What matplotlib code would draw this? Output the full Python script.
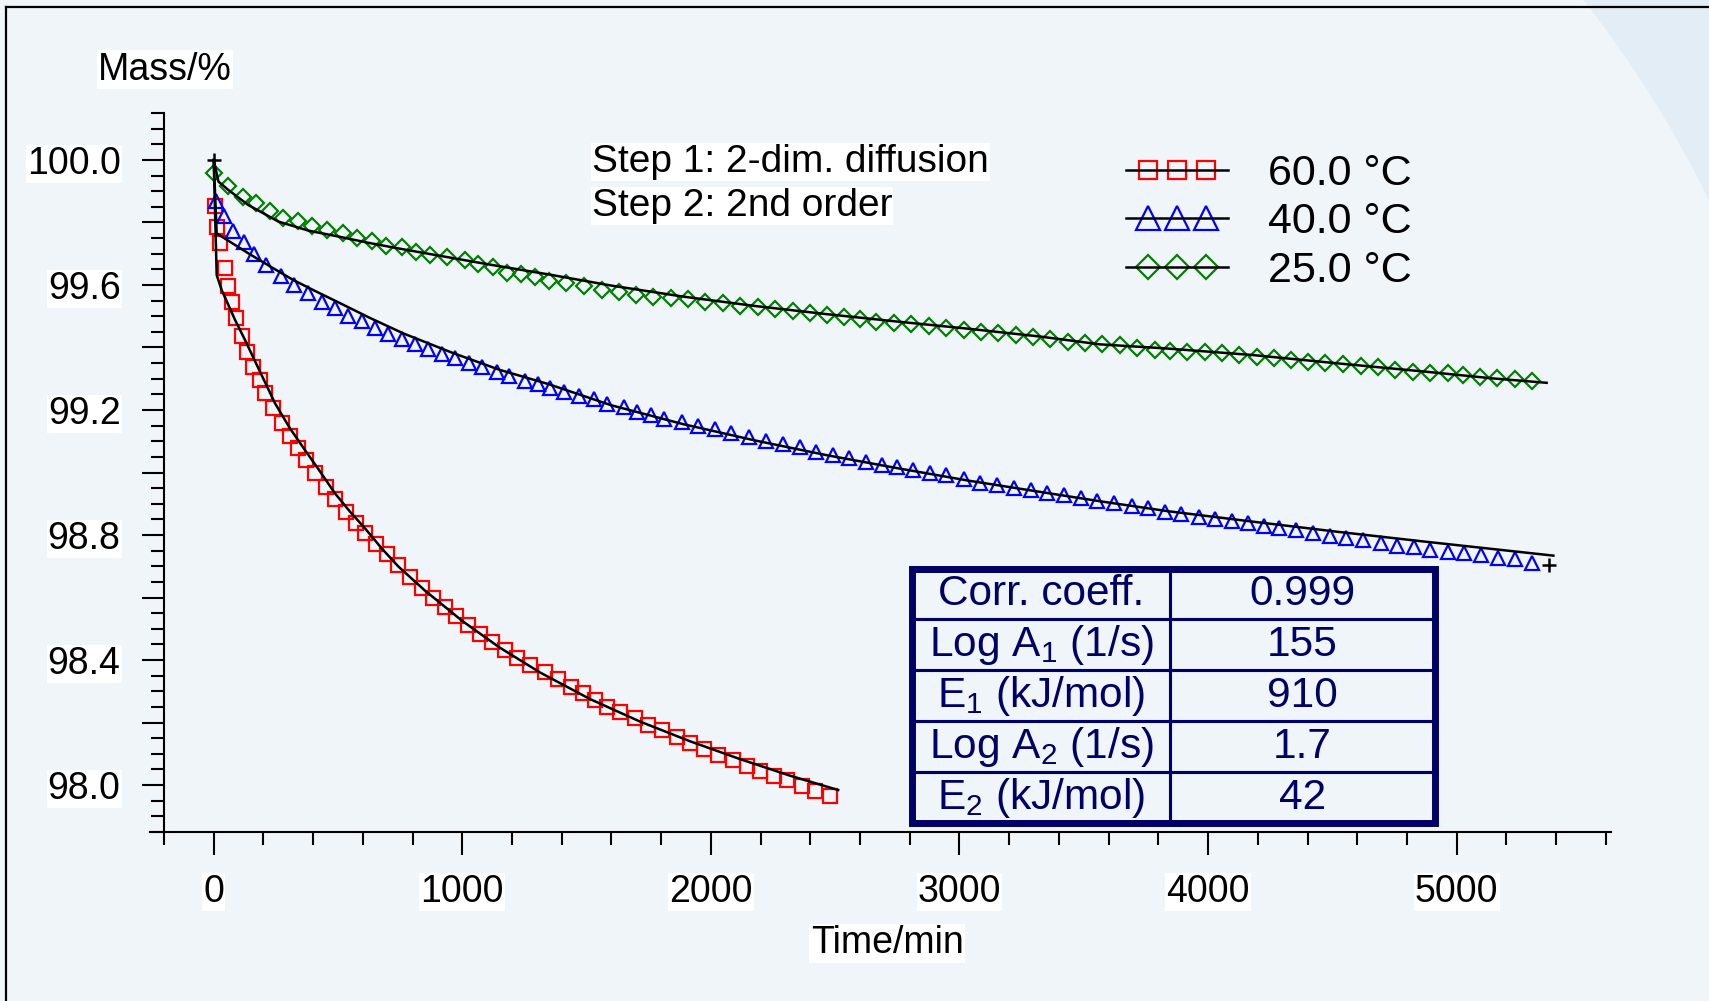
import numpy as np
import matplotlib
matplotlib.use("Agg")
import matplotlib.pyplot as plt
from matplotlib.lines import Line2D
from matplotlib.patches import Ellipse, Rectangle
from matplotlib.legend_handler import HandlerLine2D
from matplotlib.ticker import FixedLocator

plt.rcParams['font.family'] = ['Liberation Sans', 'DejaVu Sans']
plt.rcParams['mathtext.fontset'] = 'custom'
plt.rcParams['mathtext.rm'] = 'Liberation Sans'
plt.rcParams['mathtext.it'] = 'Liberation Sans'
plt.rcParams['mathtext.default'] = 'regular'

# ---------------- data ----------------
t60 = [5, 12, 25, 44, 57, 75, 90, 113, 135, 159, 186, 206, 240, 273, 307, 338, 371, 407,
       452, 488, 532, 573, 609, 653, 696, 743, 790, 836, 882, 929, 976, 1024, 1072, 1120,
       1170, 1220, 1272, 1333, 1386, 1436, 1484, 1534, 1583, 1634, 1695, 1748, 1802, 1862,
       1916, 1972, 2030, 2088, 2144, 2198, 2255, 2307, 2368, 2419, 2479]
m60 = [99.853, 99.785, 99.733, 99.655, 99.597, 99.545, 99.495, 99.438, 99.387, 99.339,
       99.296, 99.253, 99.207, 99.157, 99.117, 99.077, 99.040, 98.997, 98.953, 98.914,
       98.875, 98.839, 98.807, 98.770, 98.740, 98.704, 98.666, 98.632, 98.600, 98.569,
       98.540, 98.511, 98.484, 98.458, 98.433, 98.408, 98.385, 98.363, 98.338, 98.315,
       98.293, 98.272, 98.251, 98.235, 98.213, 98.192, 98.176, 98.153, 98.135, 98.114,
       98.096, 98.080, 98.062, 98.046, 98.029, 98.016, 97.998, 97.982, 97.965]

t40 = [9, 43, 79, 123, 163, 210, 271, 324, 381, 434, 488, 542, 595, 649, 702, 756, 810,
       863, 917, 971, 1027, 1080, 1138, 1188, 1252, 1303, 1352, 1410, 1471, 1528, 1583,
       1650, 1703, 1758, 1813, 1884, 1948, 2016, 2081, 2153, 2220, 2290, 2357, 2422, 2491,
       2555, 2623, 2689, 2749, 2814, 2881, 2947, 3019, 3082, 3151, 3220, 3288, 3352, 3422,
       3489, 3554, 3623, 3693, 3757, 3827, 3893, 3963, 4028, 4097, 4161, 4223, 4285, 4355,
       4422, 4492, 4554, 4625, 4694, 4759, 4828, 4893, 4964, 5029, 5096, 5168, 5233, 5302]
m40 = [99.870, 99.821, 99.773, 99.739, 99.699, 99.664, 99.630, 99.600, 99.573, 99.547,
       99.525, 99.501, 99.485, 99.461, 99.442, 99.426, 99.410, 99.394, 99.378, 99.365,
       99.349, 99.336, 99.323, 99.310, 99.294, 99.282, 99.271, 99.259, 99.245, 99.234,
       99.219, 99.209, 99.195, 99.184, 99.170, 99.163, 99.150, 99.138, 99.125, 99.115,
       99.101, 99.090, 99.081, 99.067, 99.056, 99.047, 99.035, 99.024, 99.019, 99.008,
       98.997, 98.992, 98.978, 98.967, 98.960, 98.951, 98.944, 98.933, 98.928, 98.917,
       98.910, 98.901, 98.893, 98.885, 98.875, 98.867, 98.859, 98.850, 98.846, 98.837,
       98.829, 98.821, 98.816, 98.805, 98.797, 98.789, 98.784, 98.773, 98.765, 98.761,
       98.752, 98.747, 98.741, 98.736, 98.727, 98.722, 98.711]

t25 = [0, 59, 117, 170, 226, 280, 340, 394, 454, 521, 578, 635, 693, 756, 812, 870, 940,
       1011, 1064, 1122, 1178, 1236, 1292, 1348, 1418, 1489, 1560, 1629, 1698, 1769, 1840,
       1909, 1978, 2048, 2117, 2189, 2258, 2330, 2397, 2469, 2537, 2598, 2666, 2738, 2806,
       2876, 2946, 3018, 3087, 3156, 3228, 3295, 3364, 3436, 3503, 3575, 3647, 3716, 3785,
       3848, 3917, 3986, 4056, 4125, 4196, 4265, 4334, 4403, 4472, 4544, 4614, 4683, 4752,
       4824, 4894, 4964, 5025, 5094, 5164, 5234, 5303]
m25 = [99.957, 99.917, 99.883, 99.861, 99.837, 99.813, 99.805, 99.789, 99.776, 99.765,
       99.749, 99.742, 99.726, 99.723, 99.707, 99.696, 99.691, 99.680, 99.667, 99.659,
       99.639, 99.635, 99.627, 99.614, 99.605, 99.597, 99.584, 99.577, 99.568, 99.563,
       99.557, 99.554, 99.547, 99.543, 99.534, 99.531, 99.523, 99.518, 99.509, 99.504,
       99.499, 99.490, 99.483, 99.479, 99.475, 99.469, 99.463, 99.456, 99.451, 99.445,
       99.440, 99.435, 99.427, 99.419, 99.415, 99.410, 99.408, 99.397, 99.392, 99.390,
       99.387, 99.384, 99.381, 99.376, 99.370, 99.366, 99.360, 99.355, 99.351, 99.346,
       99.342, 99.336, 99.328, 99.323, 99.319, 99.317, 99.312, 99.307, 99.301, 99.298,
       99.294]

# fitted model curves
fit60_t = [0, 12, 32, 86, 126, 186, 247, 307, 367, 428, 488, 548, 609, 676, 743, 850,
           1000, 1150, 1313, 1514, 1715, 1916, 2117, 2318, 2512]
fit60_m = [100.0, 99.632, 99.584, 99.488, 99.424, 99.323, 99.221, 99.141, 99.072, 99.003,
           98.933, 98.875, 98.821, 98.757, 98.699, 98.622, 98.525, 98.440, 98.360, 98.275,
           98.203, 98.140, 98.083, 98.030, 97.984]
fit40_t = [0, 12, 60, 140, 230, 320, 410, 495, 630, 763, 960, 1152, 1346, 1600, 1887,
           2175, 2462, 2749, 3036, 3324, 3565, 3831, 4177, 4524, 4870, 5147, 5389]
fit40_m = [100.0, 99.765, 99.741, 99.701, 99.658, 99.616, 99.580, 99.547, 99.494, 99.445,
           99.383, 99.328, 99.283, 99.215, 99.155, 99.103, 99.056, 99.014, 98.974, 98.938,
           98.908, 98.877, 98.843, 98.810, 98.779, 98.755, 98.734]
fit25_t = [0, 19, 59, 139, 260, 381, 502, 622, 743, 863, 984, 1105, 1225, 1346, 1600,
           1887, 2175, 2462, 2749, 3036, 3324, 3565, 3831, 4177, 4524, 4870, 5147, 5362]
fit25_m = [100.0, 99.931, 99.904, 99.856, 99.803, 99.774, 99.755, 99.735, 99.717, 99.700,
           99.683, 99.666, 99.650, 99.634, 99.598, 99.563, 99.533, 99.507, 99.483, 99.460,
           99.435, 99.410, 99.397, 99.376, 99.349, 99.323, 99.301, 99.287]
plus_t = [0, 5370]
plus_m = [100.0, 98.705]

legend_labels = ['60.0 °C', '40.0 °C', '25.0 °C']
table_names = ['Corr. coeff.', r'Log A$_1$ (1/s)', r'E$_1$ (kJ/mol)',
               r'Log A$_2$ (1/s)', r'E$_2$ (kJ/mol)']
table_values = ['0.999', '155', '910', '1.7', '42']
x_major = [0, 1000, 2000, 3000, 4000, 5000]
y_labelled = [98.0, 98.4, 98.8, 99.2, 99.6, 100.0]

# ---------------- figure ----------------
W, H = 1709, 1001
BG = '#F0F5FA'
ARC = '#E3EDF5'
NAVY = '#000066'
RED, BLUE, GREEN = '#FF0000', '#0000FF', '#008000'

fig = plt.figure(figsize=(W / 100, H / 100), dpi=100)
fig.patch.set_facecolor(ARC)
fig.add_artist(Ellipse((690 / W, 1 - 700 / H), 2 * 1135 / W, 2 * 1135 / H,
                       transform=fig.transFigure, facecolor=BG, edgecolor='none', zorder=-10))
fig.add_artist(Line2D([6 / W, 6 / W], [0, 1 - 7 / H], color='black', lw=1.6,
                      transform=fig.transFigure))
fig.add_artist(Line2D([6 / W, 1], [1 - 7 / H, 1 - 7 / H], color='black', lw=1.6,
                      transform=fig.transFigure))

ax_l, ax_r, ax_t, ax_b = 150.06, 1610.8, 113.1, 831.9
ax = fig.add_axes([ax_l / W, 1 - ax_b / H, (ax_r - ax_l) / W, (ax_b - ax_t) / H])
ax.patch.set_visible(False)
ax.set_xlim(-256, 5620)
ax.set_ylim(97.85, 100.15)
for s in ('top', 'right'):
    ax.spines[s].set_visible(False)
ax.spines['left'].set_position(('data', -200))
for s in ('left', 'bottom'):
    ax.spines[s].set_linewidth(1.5)

ax.xaxis.set_major_locator(FixedLocator(x_major))
ax.xaxis.set_minor_locator(FixedLocator(np.arange(-200, 5601, 200)))
ax.set_xticks(x_major, [str(v) for v in x_major])
y_major = np.round(np.arange(98.0, 100.01, 0.2), 2)
ax.set_yticks(y_major, [f'{v:.1f}' if any(abs(v - u) < 1e-6 for u in y_labelled) else ''
                        for v in y_major])
ax.yaxis.set_minor_locator(FixedLocator(np.round(np.arange(97.85, 100.151, 0.05), 3)))

ax.tick_params(axis='x', which='major', direction='out', length=16.3, width=1.5, pad=14,
               labelsize=27)
ax.tick_params(axis='x', which='minor', direction='out', length=9.1, width=1.5)
ax.tick_params(axis='y', which='major', direction='out', length=15.6, width=1.5, pad=15.7,
               labelsize=27)
ax.tick_params(axis='y', which='minor', direction='out', length=9.1, width=1.5)
for lab in ax.get_xticklabels() + ax.get_yticklabels():
    lab.set_bbox(dict(facecolor='white', edgecolor='none', pad=0.8))

# markers
ax.plot(t60, m60, ls='none', marker='s', ms=9.4, mfc='none', mec=RED, mew=1.6, zorder=3)
ax.plot(t40, m40, ls='none', marker='^', ms=10.6, mfc='none', mec=BLUE, mew=1.6, zorder=3)
ax.plot(t25, m25, ls='none', marker='D', ms=8.2, mfc='none', mec=GREEN, mew=1.6, zorder=3)
# fit curves
for ft, fm in ((fit60_t, fit60_m), (fit40_t, fit40_m), (fit25_t, fit25_m)):
    ax.plot(ft, fm, color='black', lw=1.8, zorder=4, solid_joinstyle='round')
ax.plot(plus_t, plus_m, ls='none', marker='+', ms=10, mew=1.8, color='black', zorder=5,
        clip_on=False)

# legend
mk60 = Line2D([], [], ls='none', marker='s', ms=13.5, mfc='none', mec=RED, mew=1.6)
mk40 = Line2D([], [], ls='none', marker='^', ms=17, mfc='none', mec=BLUE, mew=1.6)
mk25 = Line2D([], [], ls='none', marker='D', ms=12.5, mfc='none', mec=GREEN, mew=1.6)
lns = [Line2D([], [], color='black', lw=1.8) for _ in range(3)]
hmap = {}
for mk in (mk60, mk40, mk25):
    hmap[mk] = HandlerLine2D(numpoints=3, marker_pad=0.52)
for ln in lns:
    hmap[ln] = HandlerLine2D(numpoints=1)
ax.legend([(mk60, lns[0]), (mk40, lns[1]), (mk25, lns[2])], legend_labels,
          handler_map=hmap, loc='upper left', bbox_to_anchor=(1126 / W, 1 - 153.7 / H),
          bbox_transform=fig.transFigure, frameon=False, fontsize=31, handlelength=2.37,
          handletextpad=0.93, labelspacing=0.2, borderpad=0, borderaxespad=0)

# table
def axx(px):
    return (px - ax_l) / (ax_r - ax_l)

def axy(py):
    return (ax_b - py) / (ax_b - ax_t)

tx0, tx1, ty_top, ty_bot = axx(912), axx(1435), axy(568.5), axy(823)
tbl = ax.table(cellText=[[n, v] for n, v in zip(table_names, table_values)],
               cellLoc='center', colWidths=[258, 265],
               bbox=[tx0, ty_bot, tx1 - tx0, ty_top - ty_bot])
tbl.auto_set_font_size(False)
tbl.set_fontsize(30.5)
for cell in tbl.get_celld().values():
    cell.set_edgecolor(NAVY)
    cell.set_linewidth(2.2)
    cell.set_facecolor('none')
    cell.get_text().set_color(NAVY)
tbl.set_zorder(6)
ax.add_patch(Rectangle((tx0, ty_bot), tx1 - tx0, ty_top - ty_bot, transform=ax.transAxes,
                       fill=False, edgecolor=NAVY, lw=5, zorder=7, clip_on=False))

# texts
fig.text(165 / W, 1 - 69.7 / H, 'Mass/%', ha='center', va='center', fontsize=27,
         bbox=dict(facecolor='white', edgecolor='none', pad=1.0))
fig.text(887 / W, 1 - 943 / H, 'Time/min', ha='center', va='center', fontsize=27,
         bbox=dict(facecolor='white', edgecolor='none', pad=1.0))
fig.text(592 / W, 1 - 144 / H, 'Step 1: 2-dim. diffusion', ha='left', va='top',
         fontsize=28, bbox=dict(facecolor='white', edgecolor='none', pad=0.5))
fig.text(592 / W, 1 - 188 / H, 'Step 2: 2nd order', ha='left', va='top',
         fontsize=28, bbox=dict(facecolor='white', edgecolor='none', pad=0.5))

fig.savefig('out.png', dpi=100, facecolor=fig.get_facecolor())
